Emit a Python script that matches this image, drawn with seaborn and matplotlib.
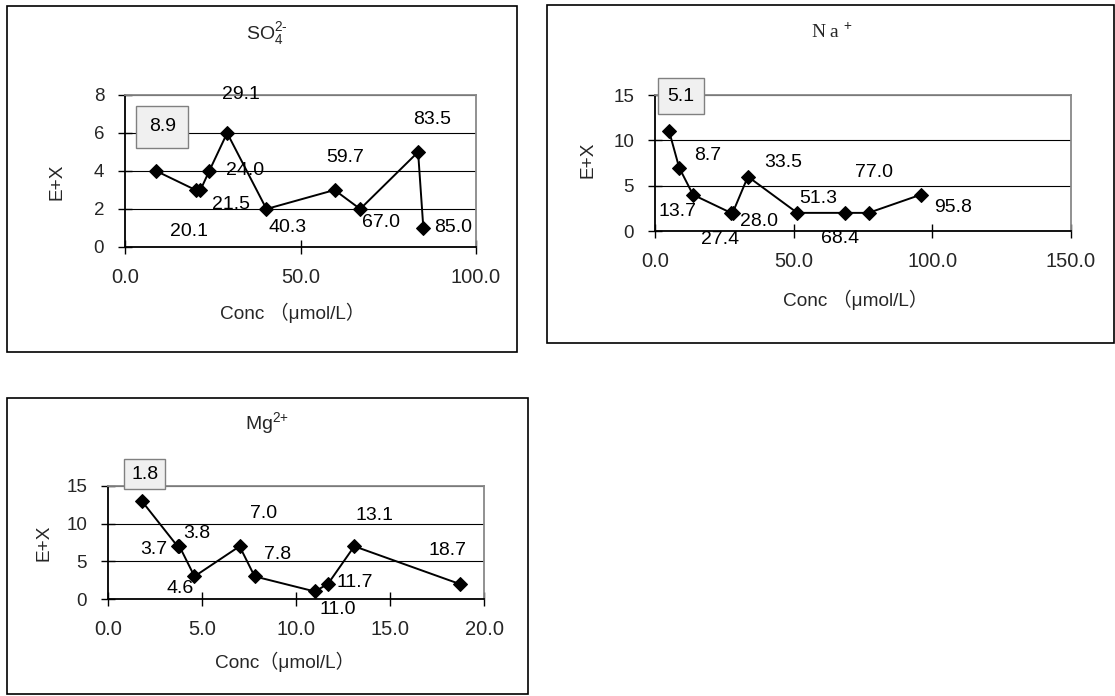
import matplotlib
matplotlib.use("Agg")
import matplotlib.pyplot as plt
import matplotlib.ticker as mticker
from matplotlib.patches import Rectangle
import seaborn as sns

# SO4 2-
so4_conc = [8.9, 20.1, 21.5, 24.0, 29.1, 40.3, 59.7, 67.0, 83.5, 85.0]
so4_ex = [4, 3, 3, 4, 6, 2, 3, 2, 5, 1]
so4_labels = ["8.9", "20.1", "21.5", "24.0", "29.1", "40.3", "59.7", "67.0", "83.5", "85.0"]

# Na+
na_conc = [5.1, 8.7, 13.7, 27.4, 28.0, 33.5, 51.3, 68.4, 77.0, 95.8]
na_ex = [11, 7, 4, 2, 2, 6, 2, 2, 2, 4]
na_labels = ["5.1", "8.7", "13.7", "27.4", "28.0", "33.5", "51.3", "68.4", "77.0", "95.8"]

# Mg2+
mg_conc = [1.8, 3.7, 3.8, 4.6, 7.0, 7.8, 11.0, 11.7, 13.1, 18.7]
mg_ex = [13, 7, 7, 3, 7, 3, 1, 2, 7, 2]
mg_labels = ["1.8", "3.7", "3.8", "4.6", "7.0", "7.8", "11.0", "11.7", "13.1", "18.7"]

W, H = 1115, 696

# label offsets (pixels, right / down)
so4_off = [(6, -44), (-7, 42), (31, 15), (36, 0), (14, -38), (21, 19), (11, -33), (21, 14), (14, -32), (30, 0)]
na_off = [(12, -35), (29, -12), (-15, 17), (-11, 27), (26, 9), (35, -14), (21, -14), (-5, 26), (5, -40), (32, 13)]
mg_off = [(3, -27), (-24, 3), (17, -13), (-14, 12), (24, -33), (23, -22), (23, 18), (27, -1), (20, -31), (-12, -33)]

sns.set_style("white")
plt.rcParams['font.family'] = ['Liberation Sans', 'Noto Sans CJK SC']
plt.rcParams['mathtext.fontset'] = 'custom'
plt.rcParams['mathtext.rm'] = 'Liberation Sans'
plt.rcParams['mathtext.it'] = 'Liberation Sans:italic'

fig = plt.figure(figsize=(W / 100, H / 100), dpi=100)


def px_rect(l, t, r, b):
    return [l / W, 1 - b / H, (r - l) / W, (b - t) / H]


panels = [
    dict(x=so4_conc, y=so4_ex, labels=so4_labels, off=so4_off, box_pad=0.65,
         plot=(125, 95, 476, 247), frame=(7, 6, 517, 352),
         xlim=(0, 100), xstep=50, ylim=(0, 8), ystep=2,
         title=r"SO$_4^{2\text{-}}$", title_xy=(267, 34), title_font='Liberation Sans',
         xlabel="Conc （μmol/L）", xlabel_xy=(292, 313), ylabel_xy=(57, 182)),
    dict(x=na_conc, y=na_ex, labels=na_labels, off=na_off, box_pad=0.5,
         plot=(655, 95, 1071, 231), frame=(547, 5, 1114, 343),
         xlim=(0, 150), xstep=50, ylim=(0, 15), ystep=5,
         title=r"N a $^{\text{+}}$", title_xy=(832, 32), title_font='Liberation Serif',
         xlabel="Conc （μmol/L）", xlabel_xy=(855, 300), ylabel_xy=(588, 160)),
    dict(x=mg_conc, y=mg_ex, labels=mg_labels, off=mg_off, box_pad=0.35,
         plot=(108, 486, 484, 599), frame=(7, 398, 528, 694),
         xlim=(0, 20), xstep=5, ylim=(0, 15), ystep=5,
         title=r"Mg$^{2\text{+}}$", title_xy=(267, 423), title_font='Liberation Sans',
         xlabel="Conc（μmol/L）", xlabel_xy=(285, 662), ylabel_xy=(44, 543)),
]

for p in panels:
    l, t, r, b = p['plot']
    ax = fig.add_axes(px_rect(l, t, r, b))

    def to_ax(px, py):
        return (px - l) / (r - l), (b - py) / (b - t)

    fl, ft, fr, fb = p['frame']
    fig.add_artist(Rectangle((fl / W, 1 - fb / H), (fr - fl) / W, (fb - ft) / H,
                             transform=fig.transFigure, fill=False,
                             edgecolor='black', lw=1.2))

    sns.lineplot(x=p['x'], y=p['y'], ax=ax, color='black', marker='D',
                 markersize=7.5, markeredgecolor='black', linewidth=1.4,
                 estimator=None, sort=False)

    ax.set_xlim(*p['xlim'])
    ax.set_ylim(*p['ylim'])
    ax.xaxis.set_major_locator(mticker.MultipleLocator(p['xstep']))
    ax.yaxis.set_major_locator(mticker.MultipleLocator(p['ystep']))
    ax.xaxis.set_major_formatter(mticker.FormatStrFormatter('%.1f'))
    ax.yaxis.set_major_formatter(mticker.FormatStrFormatter('%d'))

    ax.yaxis.grid(True, color='black', lw=0.8)
    ax.xaxis.grid(False)
    for s in ['left', 'bottom']:
        ax.spines[s].set_color('black')
        ax.spines[s].set_linewidth(1.3)
    for s in ['top', 'right']:
        ax.spines[s].set_color('#888888')
        ax.spines[s].set_linewidth(1.3)

    ax.tick_params(axis='x', direction='inout', length=10, width=1, color='black',
                   labelsize=14.5, pad=10, bottom=True)
    ax.tick_params(axis='y', direction='inout', length=10, width=1, color='black',
                   labelsize=13.5, pad=10, left=True)

    for i, (xv, yv, txt) in enumerate(zip(p['x'], p['y'], p['labels'])):
        dx, dy = p['off'][i]
        kw = {}
        if i == 0:
            kw['bbox'] = dict(boxstyle=f"square,pad={p['box_pad']}", fc='#f0f0f0',
                              ec='#808080', lw=1)
        ax.annotate(txt, (xv, yv), xytext=(dx, -dy), textcoords='offset pixels',
                    ha='center', va='center', fontsize=14, color='black',
                    annotation_clip=False, **kw)

    ax.set_title(p['title'], fontsize=14, family=p['title_font'], y=1.0, pad=0)
    ax.title.set_position(to_ax(*p['title_xy']))
    ax.title.set_va('center')

    ax.set_xlabel(p['xlabel'], fontsize=13.7)
    ax.xaxis.set_label_coords(*to_ax(*p['xlabel_xy']))
    ax.xaxis.label.set_va('center')
    ax.set_ylabel("E+X", fontsize=13.7)
    ax.yaxis.set_label_coords(*to_ax(*p['ylabel_xy']))
    ax.yaxis.label.set_va('center')

fig.savefig("out.png", dpi=100, facecolor='white')
